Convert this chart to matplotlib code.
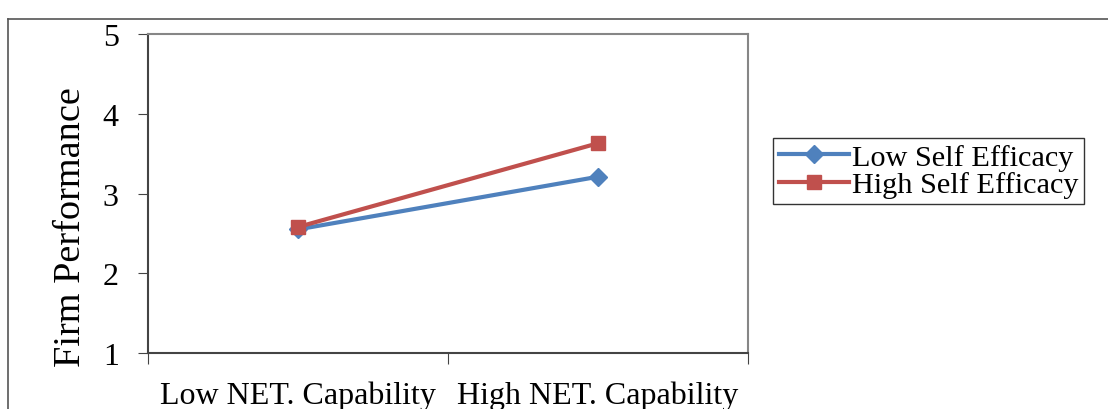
import matplotlib.pyplot as plt
from matplotlib.lines import Line2D

categories = ['Low NET. Capability', 'High NET. Capability']
low_self = [2.55, 3.21]
high_self = [2.58, 3.63]
series_names = ['Low Self Efficacy', 'High Self Efficacy']
yticks = [1, 2, 3, 4, 5]

plt.rcParams['font.family'] = ['Liberation Serif', 'DejaVu Serif']

W, H = 1108, 410
fig = plt.figure(figsize=(W / 100, H / 100), dpi=100)

# outer chart frame (top and left edges are visible in the crop)
fig.add_artist(Line2D([8 / W, 1], [1 - 20 / H, 1 - 20 / H], color='#555555', lw=1.2))
fig.add_artist(Line2D([8 / W, 8 / W], [0, 1 - 20 / H], color='#555555', lw=1.2))

ax = fig.add_axes([148 / W, 1 - 354 / H, 600 / W, 319 / H])
x = [0.5, 1.5]
ax.plot(x, low_self, color='#4F81BD', lw=3, marker='D', ms=9,
        label=series_names[0])
ax.plot(x, high_self, color='#C0504D', lw=3, marker='s', ms=10,
        label=series_names[1])

ax.set_xlim(0, 2)
ax.set_ylim(1, 5)
ax.set_yticks(yticks)
ax.set_yticklabels([str(t) for t in yticks], fontsize=23)
ax.set_xticks([0, 1, 2])
ax.set_xticklabels([])
ax.set_xticks(x, minor=True)
ax.set_xticklabels(categories, minor=True, fontsize=23)
ax.tick_params(axis='x', which='minor', length=0, pad=20)
ax.tick_params(axis='x', which='major', length=8, direction='out', color='#444444')
ax.tick_params(axis='y', length=7, direction='out', color='#444444', pad=14)
ax.set_ylabel('Firm Performance', fontsize=27.5)
ax.yaxis.set_label_coords(-0.10, 0.398)

for side in ['top', 'right']:
    ax.spines[side].set_color('#868686')
    ax.spines[side].set_linewidth(1.5)
for side in ['left', 'bottom']:
    ax.spines[side].set_color('#444444')
    ax.spines[side].set_linewidth(1.5)

leg = ax.legend(loc='center left', bbox_to_anchor=(773 / W, 1 - 172 / H),
                bbox_transform=fig.transFigure, fontsize=21.8, frameon=True,
                fancybox=False, borderpad=0.2, labelspacing=0.0,
                handlelength=2.3, handletextpad=0.1, borderaxespad=0)
leg.get_frame().set_edgecolor('black')
leg.get_frame().set_linewidth(1)

fig.savefig('out.png', dpi=100)
